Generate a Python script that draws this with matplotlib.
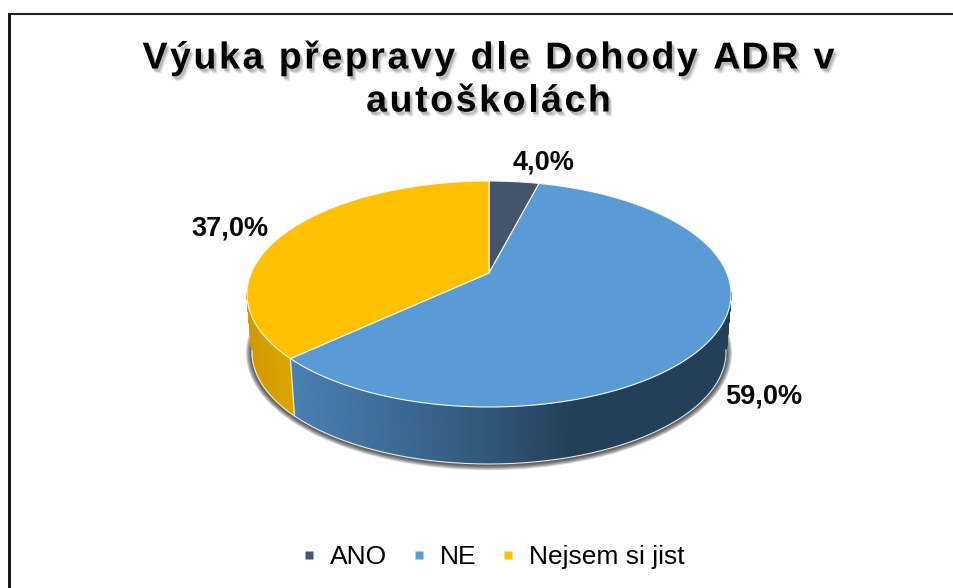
import numpy as np
import matplotlib
matplotlib.use("Agg")
import matplotlib.pyplot as plt
from matplotlib.collections import PolyCollection
from matplotlib.colors import to_rgb
from matplotlib.lines import Line2D
from matplotlib.patches import Polygon, Ellipse
from matplotlib.text import Text
from matplotlib.transforms import IdentityTransform, Bbox
import matplotlib.patheffects as pe

title = "Výuka přepravy dle Dohody ADR v\nautoškolách"
categories = ["ANO", "NE", "Nejsem si jist"]
values = [4.0, 59.0, 37.0]
value_labels = ["4,0%", "59,0%", "37,0%"]
colors = ["#44546A", "#5B9BD5", "#FFC000"]
label_pos = [(544, 162), (763.5, 397), (230, 229)]

W, H = 954, 588
plt.rcParams["font.family"] = ["Liberation Sans", "DejaVu Sans"]


class SpacedText(Text):
    """A single text artist with letter spacing, given in pixels."""

    def __init__(self, *args, tracking=0.0, leading=43.0, **kw):
        super().__init__(*args, **kw)
        self.tracking = tracking
        self.leading = leading

    def _width(self, renderer, s):
        return renderer.get_text_width_height_descent(s, self.get_fontproperties(), False)[0]

    def _get_layout(self, renderer):
        bbox, info, descent = super()._get_layout(renderer)
        n = max(len(s) for s in self.get_text().split("\n"))
        extra = self.tracking * (n - 1) / 2
        wide = Bbox.from_extents(bbox.x0 - extra, bbox.y0, bbox.x1 + extra, bbox.y1)
        return wide, info, descent

    def draw(self, renderer):
        fp = self.get_fontproperties()
        x0, y0 = self.get_transform().transform(self.get_position())
        for i, line in enumerate(self.get_text().split("\n")):
            total = self._width(renderer, line) + self.tracking * (len(line) - 1)
            for j, ch in enumerate(line):
                adv = self._width(renderer, "H" + line[:j] + "H") - self._width(renderer, "HH")
                t = Text(x0 - total / 2 + adv + self.tracking * j, y0 - i * self.leading, ch,
                         fontproperties=fp, color=self.get_color(), ha="left", va="baseline",
                         transform=IdentityTransform(), path_effects=self.get_path_effects())
                t.set_figure(self.get_figure())
                t.draw(renderer)


fig = plt.figure(figsize=(W / 100, H / 100), dpi=100, facecolor="white")
ax = fig.add_axes([0, 0, 1, 1])
ax.set_xlim(0, W)
ax.set_ylim(H, 0)
ax.axis("off")

# geometry of the tilted disc
CX, CY, RX, RY = 489.0, 294.0, 242.0, 113.0      # top face
BCY, BRX, BRY = 352.0, 237.0, 112.0              # lower rim
D = 0.186                                        # perspective shift of the apex


def rim(theta):
    sx, cy = np.sin(theta), np.cos(theta)
    den = 1 + D * cy
    return sx * np.sqrt(1 - D ** 2) / den, (cy + D) / den


def top_xy(theta):
    u, v = rim(theta)
    return CX + RX * u, CY - RY * v


def low_xy(theta):
    u, v = rim(theta)
    return CX + BRX * u, BCY - BRY * v


edges = np.cumsum([0.0] + values) / sum(values) * 2 * np.pi
apex = (CX, CY - RY * D)
EDGE = "#F4F6F8"


def mix(c1, c2, f):
    f = min(max(f, 0), 1)
    return tuple((1 - f) * a + f * b for a, b in zip(to_rgb(c1), to_rgb(c2)))


def wall_colour(i, x):
    if i == 1:
        if x < 490:
            return mix("#4A80B3", "#30577A", (x - 296) / 194)
        return mix("#30577A", "#243F58", (x - 490) / 85)
    if i == 2:
        return mix("#D09A00", "#DDA600", (x - 250) / 45)
    return to_rgb(colors[i])


# soft shadow below the disc
for k in range(7, 0, -1):
    ax.add_patch(Ellipse((CX, BCY + 1.0), 2 * (BRX + k * 0.8 + 0.5), 2 * (BRY + k * 0.75),
                         fc="black", ec="none", alpha=0.13, zorder=1))

# side walls
for i in range(len(values)):
    t = np.linspace(edges[i], edges[i + 1], 360)
    t = t[rim(t)[1] <= 0.02]
    if len(t) < 2:
        continue
    xt, yt = top_xy(t)
    xb, yb = low_xy(t)
    polys = [[(xt[k], yt[k]), (xt[k + 1], yt[k + 1]), (xb[k + 1], yb[k + 1]), (xb[k], yb[k])]
             for k in range(len(t) - 1)]
    cols = [wall_colour(i, (xt[k] + xb[k]) / 2) for k in range(len(t) - 1)]
    ax.add_collection(PolyCollection(polys, facecolors=cols, edgecolors=cols, linewidths=0.6, zorder=2))
    ax.plot(xb, yb, color="#E8E8E8", lw=0.8, zorder=2.5, solid_capstyle="round")

seam = edges[2]
sx0, sy0 = top_xy(seam)
sx1, sy1 = low_xy(seam)
ax.plot([sx0, sx1], [sy0, sy1], color=EDGE, lw=0.8, zorder=2.6)

# top face
for i in range(len(values)):
    t = np.linspace(edges[i], edges[i + 1], 300)
    x, y = top_xy(t)
    pts = np.column_stack([np.r_[apex[0], x], np.r_[apex[1], y]])
    ax.add_patch(Polygon(pts, closed=True, fc=colors[i], ec=EDGE, lw=0.8, joinstyle="round", zorder=3))

# value labels
for (x, y), s in zip(label_pos, value_labels):
    ax.text(x, y, s, fontsize=19.5, fontweight="bold", ha="center", va="center", color="#0A0A0A", zorder=5)

# title
shadow = [pe.SimplePatchShadow(offset=(o, -o * 1.4), shadow_rgbFace="black", alpha=a)
          for o, a in ((2.6, 0.07), (2.0, 0.10), (1.4, 0.14))] + [pe.Normal()]
ax.add_artist(SpacedText(488.5, 68.5, title, tracking=2.55, leading=43, fontsize=27, fontweight="bold",
                         color="black", ha="center", linespacing=1.0, path_effects=shadow, zorder=6))

# frame, open to the right and the bottom
ax.plot([9.5, 9.5], [13, H + 5], color="#111111", lw=2.1, solid_capstyle="butt", zorder=7)
ax.plot([8, W + 5], [13.5, 13.5], color="#222222", lw=1.5, solid_capstyle="butt", zorder=7)

# legend
handles = [Line2D([], [], ls="none", marker="s", ms=6.2, mfc=c, mec="none", label=n)
           for c, n in zip(colors, categories)]
ax.legend(handles=handles, ncol=3, loc="center", bbox_to_anchor=(490.5 / W, 1 - 557 / H),
          bbox_transform=ax.transAxes, frameon=False, fontsize=19, handlelength=1.0,
          handletextpad=0.29, columnspacing=0.7, labelcolor="black")

fig.savefig("out.png", dpi=100)
